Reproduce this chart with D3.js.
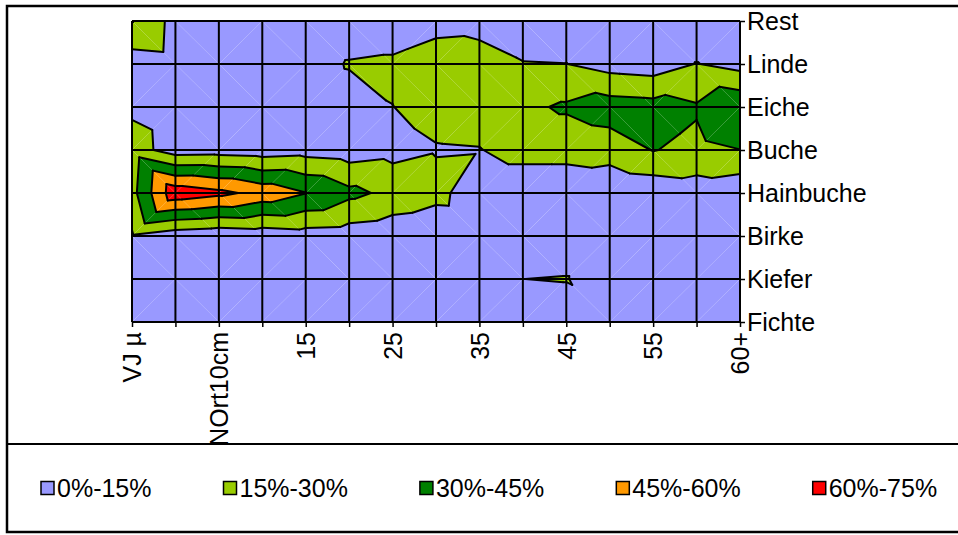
<!DOCTYPE html>
<html>
<head>
<meta charset="utf-8">
<script src="https://cdn.jsdelivr.net/npm/d3@7"></script>
<style>
  html, body { margin: 0; padding: 0; background: #fff; }
  svg { display: block; font-family: "Liberation Sans", Arial, sans-serif; }
</style>
</head>
<body>
<svg id="chart" width="958" height="535"></svg>
<script>
// Diameter classes (x) and tree species (y, bottom to top)
const categories = ["VJ µ", "VJ", "NOrt10cm", "10", "15", "20", "25", "30", "35", "40", "45", "50", "55", "58", "60+"];
const species = ["Fichte", "Kiefer", "Birke", "Hainbuche", "Buche", "Eiche", "Linde", "Rest"];

// Share of each species per diameter class
const fichte    = [0.04, 0.03, 0.03, 0.03, 0.03, 0.03, 0.03, 0.03, 0.03, 0.05, 0.05, 0.10, 0.03, 0.03, 0.03];
const kiefer    = [0.04, 0.04, 0.03, 0.03, 0.03, 0.03, 0.03, 0.03, 0.04, 0.1495, 0.158, 0.04, 0.03, 0.03, 0.03];
const birke     = [0.134, 0.06, 0.035, 0.056, 0.08, 0.07, 0.045, 0.02, 0.03, 0.04, 0.04, 0.04, 0.03, 0.03, 0.03];
const hainbuche = [0.25, 0.70, 0.64, 0.55, 0.455, 0.34, 0.26, 0.20, 0.05, 0.05, 0.05, 0.02, 0.04, 0.07, 0.034];
const buche     = [0.22, 0.078, 0.086, 0.072, 0.09, 0.07, 0.10, 0.14, 0.145, 0.20, 0.20, 0.22, 0.305, 0.265, 0.298];
const eiche     = [0.12, 0.07, 0.05, 0.05, 0.06, 0.08, 0.148, 0.20, 0.21, 0.27, 0.32, 0.373, 0.357, 0.315, 0.43];
const linde     = [0.07, 0.09, 0.06, 0.05, 0.08, 0.161, 0.177, 0.225, 0.20, 0.157, 0.152, 0.09, 0.07, 0.155, 0.095];
const rest      = [0.305, 0.10, 0.06, 0.05, 0.04, 0.05, 0.05, 0.10, 0.11, 0.05, 0.04, 0.03, 0.03, 0.04, 0.03];

// Contour bands
const thresholds = [0, 0.15, 0.30, 0.45, 0.60, 0.75];
const bandLabels = ["0%-15%", "15%-30%", "30%-45%", "45%-60%", "60%-75%"];
const bandColors = ["#9999FF", "#99CC00", "#008000", "#FF9900", "#FF0000"];

const grid = [fichte, kiefer, birke, hainbuche, buche, eiche, linde, rest];

const svg = d3.select("#chart");
const plot = { left: 132, right: 740, top: 21, bottom: 322 };

const xPt = d3.scalePoint().domain(categories).range([plot.left, plot.right]);
const yPt = d3.scalePoint().domain(species).range([plot.bottom, plot.top]);
const xIdx = d3.scaleLinear().domain([0, categories.length - 1]).range([plot.left, plot.right]);
const yIdx = d3.scaleLinear().domain([0, species.length - 1]).range([plot.bottom, plot.top]);

// Triangulate each cell along the diagonal joining the higher pair of corners
const triangles = [];
for (let j = 0; j < species.length - 1; j++) {
  for (let i = 0; i < categories.length - 1; i++) {
    const a = { x: i, y: j, v: grid[j][i] };
    const b = { x: i + 1, y: j, v: grid[j][i + 1] };
    const c = { x: i, y: j + 1, v: grid[j + 1][i] };
    const d = { x: i + 1, y: j + 1, v: grid[j + 1][i + 1] };
    if (a.v + d.v >= b.v + c.v) {
      triangles.push([a, b, d], [a, d, c]);
    } else {
      triangles.push([a, b, c], [b, d, c]);
    }
  }
}

function lerp(p, q, sp, sc) {
  const t = sp / (sp - sc);
  return { x: p.x + t * (q.x - p.x), y: p.y + t * (q.y - p.y), v: p.v + t * (q.v - p.v) };
}

// Sutherland–Hodgman clip of a polygon against f(v) >= 0
function clip(poly, f) {
  const out = [];
  const n = poly.length;
  for (let k = 0; k < n; k++) {
    const cur = poly[k], prev = poly[(k + n - 1) % n];
    const sc = f(cur.v), sp = f(prev.v);
    if (sc >= 0) {
      if (sp < 0) out.push(lerp(prev, cur, sp, sc));
      out.push(cur);
    } else if (sp >= 0) {
      out.push(lerp(prev, cur, sp, sc));
    }
  }
  return out;
}

const line = d3.line().x(p => xIdx(p.x)).y(p => yIdx(p.y));

// Filled bands, one piece per triangle
const bandPieces = [];
triangles.forEach(tri => {
  bandColors.forEach((col, b) => {
    const lo = thresholds[b], hi = thresholds[b + 1];
    let poly = clip(tri, v => v - lo);
    if (poly.length >= 3) poly = clip(poly, v => hi - v);
    if (poly.length >= 3) bandPieces.push({ poly, col });
  });
});

svg.append("g").attr("class", "bands")
  .selectAll("path").data(bandPieces).join("path")
  .attr("d", d => line(d.poly) + "Z")
  .attr("fill", d => d.col)
  .attr("stroke", "none");

// Contour lines at each band boundary
const segs = [];
triangles.forEach(tri => {
  thresholds.slice(1, -1).forEach(t => {
    const pts = [];
    for (let k = 0; k < 3; k++) {
      const p = tri[k], q = tri[(k + 1) % 3];
      const sp = p.v - t, sq = q.v - t;
      if (sp * sq < 0) pts.push(lerp(p, q, sp, sq));
    }
    if (pts.length === 2) segs.push(pts);
  });
});

svg.append("g").attr("class", "contours")
  .selectAll("path").data(segs).join("path")
  .attr("d", d => line(d))
  .attr("fill", "none")
  .attr("stroke", "#000")
  .attr("stroke-width", 2)
  .attr("stroke-linecap", "round");

// Grid
const gridG = svg.append("g").attr("class", "grid")
  .attr("stroke", "#000").attr("stroke-width", 2);
gridG.selectAll("line.v").data(categories).join("line").attr("class", "v")
  .attr("x1", d => xPt(d)).attr("x2", d => xPt(d))
  .attr("y1", plot.top).attr("y2", plot.bottom);
gridG.selectAll("line.h").data(species).join("line").attr("class", "h")
  .attr("x1", plot.left).attr("x2", plot.right)
  .attr("y1", d => yPt(d)).attr("y2", d => yPt(d));

// Bottom axis: every other class is labelled
const xAxis = svg.append("g")
  .attr("transform", `translate(0,${plot.bottom})`)
  .call(d3.axisBottom(xPt).tickSize(5).tickSizeOuter(0)
    .tickFormat((d, i) => (i % 2 === 0 ? d : "")));
xAxis.select(".domain").remove();
xAxis.selectAll(".tick line").attr("stroke", "#000").attr("stroke-width", 1.5);
xAxis.selectAll(".tick text")
  .attr("transform", "rotate(-90)")
  .attr("x", -10).attr("y", 0).attr("dy", "0.35em")
  .style("text-anchor", "end")
  .style("font-size", "25px")
  .attr("fill", "#000");

// Right axis: species
const yAxis = svg.append("g")
  .attr("transform", `translate(${plot.right},0)`)
  .call(d3.axisRight(yPt).tickSize(5).tickPadding(2).tickSizeOuter(0));
yAxis.select(".domain").remove();
yAxis.selectAll(".tick line").attr("stroke", "#000").attr("stroke-width", 1.5);
yAxis.selectAll(".tick text")
  .style("font-size", "25px")
  .attr("fill", "#000");

// Legend box
const legendTop = 444, legendBottom = 532;
svg.append("rect")
  .attr("x", 7).attr("y", legendTop)
  .attr("width", 970).attr("height", legendBottom - legendTop)
  .attr("fill", "#fff").attr("stroke", "#000").attr("stroke-width", 2);

const legendMid = (legendTop + legendBottom) / 2;
let lx = 41;
bandLabels.forEach((lab, k) => {
  const g = svg.append("g").attr("transform", `translate(${lx},${legendMid})`);
  g.append("rect")
    .attr("x", 0).attr("y", -6.5).attr("width", 13).attr("height", 13)
    .attr("fill", bandColors[k]).attr("stroke", "#000").attr("stroke-width", 1.5);
  const txt = g.append("text")
    .attr("x", 16).attr("y", 0).attr("dy", "0.35em")
    .style("font-size", "25px").attr("fill", "#000")
    .text(lab);
  lx += 16 + txt.node().getComputedTextLength() + 72;
});

// Chart frame
svg.append("rect")
  .attr("x", 7).attr("y", 6)
  .attr("width", 970).attr("height", legendBottom - 6)
  .attr("fill", "none").attr("stroke", "#000").attr("stroke-width", 2.5);
</script>
</body>
</html>
